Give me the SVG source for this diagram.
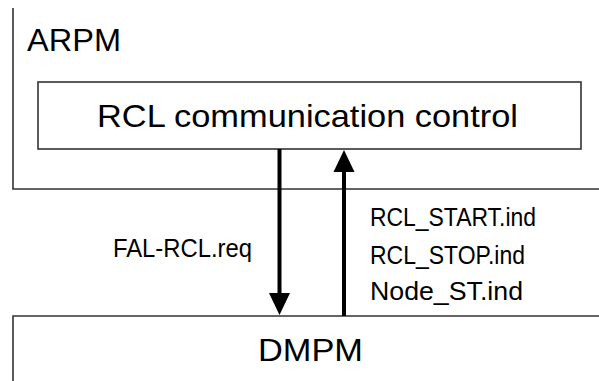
<svg xmlns="http://www.w3.org/2000/svg" width="599" height="381" viewBox="0 0 599 381">
<style>
.frame{fill:none;stroke:#333;stroke-width:1.6}
.arrow{fill:none;stroke:#000;stroke-width:4}
text{font-family:"Liberation Sans",Arial,sans-serif;fill:#000}
.big{font-size:32px}
.lbl{font-size:26px}
</style>
<defs>
<marker id="ah" markerUnits="userSpaceOnUse" markerWidth="22" markerHeight="22" viewBox="0 -11 22 22" refX="0" refY="0" orient="auto">
<path d="M0,-10.5 L22,0 L0,10.5 z" fill="#000"/>
</marker>
</defs>
<rect width="599" height="381" fill="#fff"/>
<g id="arpm">
<path class="frame" d="M13,8 V189 H599"/>
<text class="big" x="27" y="51" textLength="94" lengthAdjust="spacingAndGlyphs">ARPM</text>
</g>
<g id="rcl">
<rect class="frame" x="38" y="82" width="543" height="67"/>
<text class="big" x="97" y="127" font-size="31" textLength="421" lengthAdjust="spacingAndGlyphs">RCL communication control</text>
</g>
<g id="dmpm">
<path class="frame" d="M13,381 V316 H599"/>
<text class="big" x="258" y="361" font-size="33" textLength="105" lengthAdjust="spacingAndGlyphs">DMPM</text>
</g>
<g id="connectors">
<line class="arrow" x1="279.5" y1="149" x2="279.5" y2="293" marker-end="url(#ah)"/>
<line class="arrow" x1="344" y1="316" x2="344" y2="172" marker-end="url(#ah)"/>
<text class="lbl" x="113" y="257" textLength="139" lengthAdjust="spacingAndGlyphs">FAL-RCL.req</text>
<text class="lbl" x="370" y="226" textLength="166" lengthAdjust="spacingAndGlyphs">RCL_START.ind</text>
<text class="lbl" x="370" y="264" textLength="155" lengthAdjust="spacingAndGlyphs">RCL_STOP.ind</text>
<text class="lbl" x="370" y="300" textLength="153" lengthAdjust="spacingAndGlyphs">Node_ST.ind</text>
</g>
</svg>
